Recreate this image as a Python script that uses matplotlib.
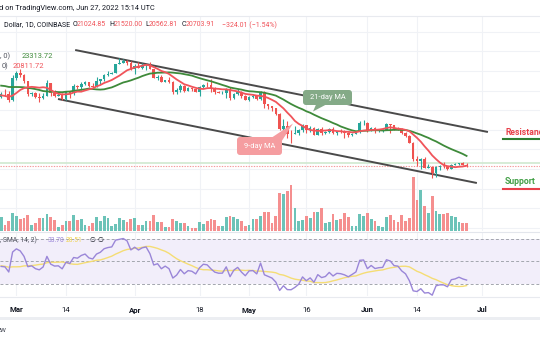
import numpy as np
import matplotlib
matplotlib.use('Agg')
import matplotlib.pyplot as plt
from matplotlib.patches import FancyBboxPatch, Polygon, Rectangle
from matplotlib.transforms import IdentityTransform, blended_transform_factory
from matplotlib.lines import Line2D

plt.rcParams['font.family'] = ['Roboto', 'DejaVu Sans']

# ---------------- data ----------------
# closes before the visible window (Jan 20 .. Feb 24), used for the MAs / RSI
pre_close = [40700, 36450, 35050, 36280, 36660, 36960, 36820, 37160, 37720, 38170,
             37920, 38480, 38740, 36900, 37300, 41570, 41380, 42400, 43840, 44040,
             44370, 43550, 42400, 42200, 42050, 42540, 44560, 43880, 40530, 40000,
             40110, 38370, 37050, 38280, 37260, 38330]

# visible daily candles, Feb 25 .. Jun 27 2022
opens = [38330, 39220, 39100, 37700, 43190, 44420, 43900, 42450, 39140, 39400,
         38400, 37990, 38730, 41940, 39420, 38730, 38810, 37780, 39670, 39280,
         41110, 40920, 41760, 42200, 41260, 41000, 42360, 42880, 43960, 44330,
         44520, 46820, 47130, 47430, 47070, 45530, 46300, 45810, 46400, 46620,
         45500, 43170, 43440, 42250, 42760, 42160, 39530, 40070, 41150, 39940,
         40550, 40380, 39680, 40800, 41500, 41370, 40480, 39710, 39400, 39460,
         40430, 38120, 39240, 39740, 38600, 37630, 38470, 38520, 37730, 39690,
         36550, 36020, 35470, 34060, 30100, 31020, 28940, 28850, 29290, 29870,
         31300, 29850, 30420, 28700, 30300, 29200, 29430, 30290, 29100, 29650,
         29540, 29200, 28630, 29030, 29450, 31730, 31800, 29800, 30450, 29700,
         29860, 29910, 31370, 31130, 30200, 30100, 29090, 28420, 26580, 22490,
         22130, 22580, 20380, 20450, 19000, 20560, 20720, 20700, 19970, 21100,
         21230, 21500, 21024.85]
highs = [39730, 40300, 39850, 44000, 44950, 45400, 44100, 42500, 39600, 39650,
         39450, 39350, 42600, 42000, 40250, 39350, 39300, 39900, 39900, 41700,
         41450, 42300, 42400, 42300, 42000, 43350, 43000, 44200, 45100, 44800,
         46900, 48200, 48100, 47700, 47600, 46700, 47200, 47000, 46900, 47200,
         45500, 43900, 43950, 42800, 43450, 42400, 40700, 41550, 41500, 40850,
         40700, 40600, 41100, 41750, 42200, 42950, 40800, 39980, 39950, 40600,
         40800, 39450, 40350, 39900, 38800, 38700, 39150, 38650, 39900, 39800,
         36650, 36150, 35500, 34250, 32650, 32150, 30000, 30950, 30300, 31350,
         31300, 31000, 30650, 30500, 30750, 29600, 30450, 30650, 29800, 30200,
         29850, 29400, 29250, 29550, 32200, 32400, 31950, 30650, 30650, 29950,
         30150, 31750, 31550, 31300, 30700, 30350, 29450, 28550, 26900, 23350,
         22800, 22950, 21350, 20800, 20750, 21050, 21700, 20850, 21200, 21550,
         21600, 21850, 21520.00]
lows = [38000, 38600, 37000, 37450, 42800, 43350, 41850, 38600, 38600, 38100,
        37150, 37850, 38650, 38550, 38250, 38650, 37600, 37600, 38100, 38900,
        40500, 40150, 41500, 40900, 40500, 40850, 41800, 42550, 43600, 44100,
        44400, 46700, 46950, 46600, 45200, 44250, 45650, 45550, 45150, 45400,
        43100, 42750, 42150, 42150, 42050, 39200, 39250, 39580, 39570, 39800,
        40000, 39550, 38550, 40550, 40850, 39750, 39200, 39300, 39000, 38200,
        37700, 37900, 38900, 38200, 37600, 37400, 38050, 37500, 37600, 35600,
        35300, 34800, 33700, 30000, 29750, 27800, 26700, 28800, 28650, 29500,
        29100, 29500, 28650, 28650, 28700, 28950, 29250, 28850, 28650, 29300,
        28000, 28250, 28450, 28800, 29300, 31200, 29350, 29600, 29250, 29450,
        29500, 29900, 29250, 29850, 29950, 28850, 28100, 26550, 21950, 20850,
        20100, 20250, 20300, 17600, 18000, 19650, 20350, 19800, 19900, 20900,
        20900, 20950, 20562.81]
closes = [39220, 39100, 37700, 43190, 44420, 43900, 42450, 39140, 39400, 38400,
          37990, 38730, 41940, 39420, 38730, 38810, 37780, 39670, 39280, 41110,
          40920, 41760, 42200, 41260, 41000, 42360, 42880, 43960, 44330, 44520,
          46820, 47130, 47430, 47070, 45530, 46300, 45810, 46400, 46620, 45500,
          43170, 43440, 42250, 42760, 42160, 39530, 40070, 41150, 39940, 40550,
          40380, 39680, 40800, 41500, 41370, 40480, 39710, 39450, 39460, 40430,
          38120, 39240, 39740, 38600, 37630, 38470, 38520, 37730, 39690, 36550,
          36020, 35470, 34060, 30100, 31020, 28940, 28850, 29290, 29870, 31300,
          29850, 30420, 28700, 30300, 29200, 29430, 30290, 29100, 29650, 29540,
          29200, 28630, 29030, 29450, 31730, 31800, 29800, 30450, 29700, 29860,
          29910, 31370, 31130, 30200, 30100, 29090, 28420, 26580, 22490, 22130,
          22580, 20380, 20450, 19000, 20560, 20720, 20700, 19970, 21100, 21230,
          21500, 21030, 20703.91]
volume_k = [13.7, 6, 10, 17.7, 15, 12, 13.3, 16.3, 6, 7.7,
            13.3, 13.3, 17, 14, 11, 4.3, 6, 10, 10, 16,
            11, 12, 6, 5.3, 7.7, 13.7, 10, 15, 13.3, 5.3,
            7, 12.7, 11, 9.3, 12.3, 12.7, 6, 6, 9.7, 10,
            16.3, 9.3, 8.7, 3.7, 4.3, 11.7, 9.7, 8, 8, 5,
            3.3, 3.3, 9, 7.3, 10, 11.7, 11.3, 5.3, 5, 13.7,
            14.7, 13.7, 11.7, 9.7, 5, 6, 12, 12, 14.7, 19.3,
            19.3, 7.7, 15.3, 37.7, 37, 40.3, 46.3, 22.7, 10.3, 11.3,
            15.3, 13, 19.3, 19.3, 22.7, 7.7, 8.7, 17, 11.3, 11.7,
            18, 14.3, 5.3, 5, 17, 15, 18, 12, 10, 5,
            4.3, 13.7, 16.3, 11.3, 8.7, 16.3, 10, 12.7, 53.7, 31,
            41, 25.3, 17.7, 35, 20, 17.3, 17, 18.3, 14.7, 14.3,
            9.3, 8.3, 8.3]

tick_idx = [4, 17, 35, 52, 65, 80, 96, 109, 126]
tick_labels = ['Mar', '14', 'Apr', '18', 'May', '16', 'Jun', '14', 'Jul']
tick_bold = [True, False, True, False, True, False, True, False, True]

upper_trend_idx = [19.4, 127.6]
upper_trend_price = [50345, 29435]
lower_trend_idx = [14.9, 124.7]
lower_trend_price = [37850, 16430]
hline_green_price = 21600

# ---------------- derived indicators ----------------
all_close = np.array(pre_close + closes, dtype=float)
npre = len(pre_close)
n = len(closes)
x = np.arange(n)

def sma(a, k):
    out = np.full(len(a), np.nan)
    c = np.convolve(a, np.ones(k) / k, mode='valid')
    out[k - 1:] = c
    return out

ma9 = sma(all_close, 9)[npre:]
ma21 = sma(all_close, 21)[npre:]

d = np.diff(all_close)
g = np.clip(d, 0, None)
l = np.clip(-d, 0, None)
rsi_all = np.full(len(all_close), np.nan)
ag = g[:14].mean(); al = l[:14].mean()
rsi_all[14] = 100 - 100 / (1 + ag / al)
for i in range(14, len(d)):
    ag = (ag * 13 + g[i]) / 14
    al = (al * 13 + l[i]) / 14
    rsi_all[i + 1] = 100 - 100 / (1 + ag / al) if al > 0 else 100
rsi_ma_all = sma(np.nan_to_num(rsi_all, nan=50), 14)
rsi = rsi_all[npre:]
rsi_ma = rsi_ma_all[npre:]

# ---------------- figure ----------------
W, H = 540, 340
fig = plt.figure(figsize=(W / 100, H / 100), dpi=100)
fig.patch.set_facecolor('white')
PX = IdentityTransform()

def fy(py):
    return 1 - py / H

XL = (-0.3, -0.3 + W / 3.815)
main_rect = [0, fy(231), 1, (231 - 16) / H]
YL = (4190, 59015)

ax_bg = fig.add_axes(main_rect)
ax_vol = fig.add_axes(main_rect, facecolor='none')
ax = fig.add_axes(main_rect, facecolor='none')
ax_rsi = fig.add_axes([0, fy(296), 1, (296 - 232) / H])

for a in (ax_bg, ax_vol, ax, ax_rsi):
    a.set_xlim(*XL)
    a.set_xticks([]); a.set_yticks([])
    for s in a.spines.values():
        s.set_visible(False)

grid_c = '#f0f2f6'
ax_bg.set_ylim(*YL)
for p in range(5000, 60000, 5000):
    ax_bg.axhline(p, color=grid_c, lw=0.8)
for t in tick_idx:
    ax_bg.axvline(t, color=grid_c, lw=0.8)
    ax_rsi.axvline(t, color=grid_c, lw=0.8, zorder=0)

up_c, dn_c = '#26a69a', '#ef5350'
o = np.array(opens); c = np.array(closes)
hi = np.array(highs); lo = np.array(lows)
is_up = c >= o
cols = np.where(is_up, up_c, dn_c)

# volume
ax_vol.set_ylim(0, 215)
vcols = np.where(is_up, '#6cc3b8', '#f58f8f')
ax_vol.bar(x, volume_k, width=0.72, color=vcols, linewidth=0)

ax.set_ylim(*YL)
# horizontal helper lines
ax.axhline(hline_green_price, color='#d3ead3', lw=1.3, zorder=1)
ax.axhline(closes[-1], color='#f39a9a', lw=0.8, ls=(0, (1.2, 1.2)), zorder=1)

# trend lines
ax.plot(upper_trend_idx, upper_trend_price, color='#4a4a4a', lw=1.4, zorder=2, solid_capstyle='butt')
ax.plot(lower_trend_idx, lower_trend_price, color='#4a4a4a', lw=1.4, zorder=2, solid_capstyle='butt')

# candles
ax.vlines(x, lo, hi, colors=cols, lw=0.8, zorder=3)
body = np.maximum(np.abs(c - o), 60)
ax.bar(x, body, bottom=np.minimum(o, c), width=0.68, color=cols, linewidth=0, zorder=4)

# moving averages
ax.plot(x, ma21, color='#3e8a3a', lw=1.3, zorder=5)
ax.plot(x, ma9, color='#f0545a', lw=1.3, zorder=5)

# RSI pane
ax_rsi.set_ylim(19.7, 75.7)
ax_rsi.axhspan(30, 70, color='#f2eefa', lw=0, zorder=0)
for lv in (70, 50, 30):
    ax_rsi.axhline(lv, color='#a3a6ae', lw=0.7, ls=(0, (3, 2.2)), zorder=1)
ax_rsi.plot(x, rsi_ma, color='#f5dd74', lw=1.0, zorder=2)
ax_rsi.plot(x, rsi, color='#9a86d8', lw=1.0, zorder=3)

# pane separators
fig.add_artist(Line2D([0, W], [H - 232, H - 232], transform=PX, color='#e3e6ec', lw=0.8))
fig.add_artist(Line2D([0, W], [H - 296.5, H - 296.5], transform=PX, color='#e8eaef', lw=0.8))
fig.add_artist(Line2D([0, W], [H - 16, H - 16], transform=PX, color='#e8eaef', lw=0.8))
fig.add_artist(Rectangle((0, H - 320), W, 3, transform=PX, color='#eceef2', lw=0))

# time axis labels
tr = blended_transform_factory(ax_rsi.transData, PX)
for t, lab, b in zip(tick_idx, tick_labels, tick_bold):
    ax_rsi.text(t, H - 310, lab, transform=tr, ha='center', va='center',
                fontsize=5.6, color='#131722', fontweight='bold' if b else 'normal',
                clip_on=False)

# ---------------- texts ----------------
def ptext(px, py, s, **kw):
    kw.setdefault('fontsize', 5.0)
    kw.setdefault('va', 'center')
    kw.setdefault('ha', 'left')
    fig.text(px, H - py, s, transform=PX, **kw)

dark = '#131722'
red_t = '#f0545a'
ptext(-1, 8.5, 'd on TradingView.com, Jun 27, 2022 15:14 UTC', color=dark, fontsize=5.3)
ptext(4, 25, 'Dollar, 1D, COINBASE', color=dark)
ptext(72.5, 25, 'O', color=dark); ptext(76.5, 25, '21024.85', color=red_t)
ptext(109.5, 25, 'H', color=dark); ptext(113.5, 25, '21520.00', color=red_t)
ptext(145.5, 25, 'L', color=dark); ptext(149, 25, '20562.81', color=red_t)
ptext(181.5, 25, 'C', color=dark); ptext(186, 25, '20703.91', color=red_t)
ptext(221.5, 25, '\u2212324.01 (\u22121.54%)', color=red_t)

ptext(0, 56, ', 0)', color='#50535e', fontsize=5.4)
ptext(21.5, 56, '23313.72', color='#3e8a3a', fontsize=5.4)
ptext(1.5, 66, '0)', color='#50535e', fontsize=5.4)
ptext(13, 66, '20811.72', color=red_t, fontsize=5.4)

ptext(0, 240.5, ', SMA, 14, 2)', color='#50535e', fontsize=4.9)
ptext(48, 240.5, '33.70', color='#9a86d8', fontsize=4.9)
ptext(66, 240.5, '28.51', color='#f0d452', fontsize=4.9)
ptext(89.5, 240.5, '\u2205', color=dark, fontsize=4.9)
ptext(98, 240.5, '\u2205', color=dark, fontsize=4.9)

ptext(-3, 330, 'ew', color='#50535e', fontsize=5.6)

# MA callouts
g_box = '#84aa87'
fig.add_artist(FancyBboxPatch((303, H - 105), 49, 15, boxstyle='round,pad=0,rounding_size=3',
                              transform=PX, facecolor=g_box, edgecolor='none'))
fig.add_artist(Polygon([(316, H - 104.6), (326, H - 104.6), (313, H - 111.5)], closed=True,
                       transform=PX, facecolor=g_box, edgecolor='none'))
ptext(327.5, 97.5, '21-day MA', color='white', fontsize=5.4, ha='center')

r_box = '#f59da0'
fig.add_artist(FancyBboxPatch((237, H - 155), 45, 18, boxstyle='round,pad=0,rounding_size=3',
                              transform=PX, facecolor=r_box, edgecolor='none'))
fig.add_artist(Polygon([(272, H - 137.4), (281.8, H - 141), (293, H - 123.5)], closed=True,
                       transform=PX, facecolor=r_box, edgecolor='none'))
ptext(259.5, 146, '9-day MA', color='white', fontsize=5.4, ha='center')

# Resistance / Support
ptext(505, 132.5, 'Resistance', color='#e8404a', fontsize=6.2, fontweight='bold')
fig.add_artist(Line2D([503, W], [H - 138.6, H - 138.6], transform=PX, color='#2e7d32', lw=1.5))
ptext(505, 181.5, 'Support', color='#43a047', fontsize=6.2, fontweight='bold')
fig.add_artist(Line2D([503, W], [H - 188.6, H - 188.6], transform=PX, color='#e8404a', lw=1.5))

fig.savefig('out.png', dpi=100, facecolor='white')
